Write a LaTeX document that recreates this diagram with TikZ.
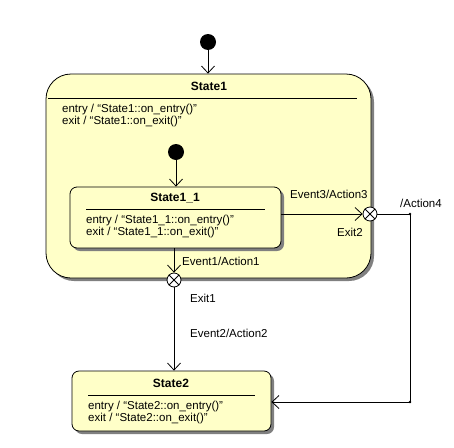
\documentclass[tikz,border=0pt]{standalone}
\usepackage{fontspec}
\setmainfont{Liberation Sans}
\usetikzlibrary{arrows.meta,shadows}
\definecolor{statefill}{RGB}{255,255,200}
\definecolor{shadowgray}{RGB}{128,128,128}
\tikzset{
  statebox/.style={draw, fill=statefill, line width=0.8pt, rounded corners=7pt,
    drop shadow={shadow xshift=3pt, shadow yshift=-3pt, fill=shadowgray, opacity=1}},
  initdot/.style={circle, fill=black, minimum size=16pt, inner sep=0pt},
  exitpt/.style={circle, draw, fill=white, line width=0.8pt, minimum size=14pt, inner sep=0pt},
  trans/.style={line width=0.8pt, -{Straight Barb[length=7pt,width=13pt]}},
  lbl/.style={font=\fontsize{11.5}{12}\selectfont, inner sep=0pt, anchor=base west},
  title/.style={font=\fontsize{12}{12}\selectfont\bfseries, inner sep=0pt, anchor=base},
  acts/.style={align=left, font=\fontsize{11.5}{12}\selectfont, inner sep=0pt, anchor=north west},
}
\begin{document}
\begin{tikzpicture}[x=1pt,y=-1pt]
    \useasboundingbox[fill=white] (0,0) rectangle (454,447);
    %% State1
    \node[statebox, rounded corners=25pt, minimum width=325pt, minimum height=204pt] (s1) at (208.5,176) {};
    \node[title] (s1title) at (209,90) {State1};
    \draw[line width=0.8pt] (48,98) -- (357,98);
    \node[acts] (s1acts) at (62,104) {entry / “State1::on\_entry()”\\exit / “State1::on\_exit()”};
    %% State1_1
    \node[statebox, minimum width=211pt, minimum height=61pt] (s11) at (175.5,217.5) {};
    \node[title] (s11title) at (175,201) {State1\_1};
    \draw[line width=0.8pt] (86,209) -- (265,209);
    \node[acts] (s11acts) at (86,215) {entry / “State1\_1::on\_entry()”\\exit / “State1\_1::on\_exit()”};
    %% State2
    \node[statebox, minimum width=199pt, minimum height=60pt] (s2) at (171.5,401) {};
    \node[title] (s2title) at (171,387) {State2};
    \draw[line width=0.8pt] (88,395) -- (255,395);
    \node[acts] (s2acts) at (88,401) {entry / “State2::on\_entry()”\\exit / “State2::on\_exit()”};
    %% Initial states
    \node[initdot] (init1) at (208,42) {};
    \node[initdot] (init2) at (176,152) {};
    \draw[trans] (init1) -- (init1 |- s1.north);
    \draw[trans] (init2) -- (init2 |- s11.north);
    %% Exit points
    \node[exitpt] (exit1) at (174,280) {};
    \node[exitpt] (exit2) at (370,214) {};
    \foreach \e in {exit1,exit2} {
        \draw[line width=0.8pt] (\e.north west) -- (\e.south east);
        \draw[line width=0.8pt] (\e.north east) -- (\e.south west);
    }
    \node[lbl] (exit1lbl) at (190,302) {Exit1};
    \node[lbl] (exit2lbl) at (337,236) {Exit2};
    %% Transitions
    \draw[trans] (s11.east |- exit2) -- (exit2);
    \node[lbl] (ev3) at (290,198) {Event3/Action3};
    \draw[trans] (exit1 |- s11.south) -- (exit1);
    \node[lbl] (ev1) at (182,265) {Event1/Action1};
    \draw[trans] (exit1) -- (exit1 |- s2.north);
    \node[lbl] (ev2) at (190,337) {Event2/Action2};
    \coordinate (c1) at (410,214);
    \coordinate (c2) at (410,402);
    \draw[trans] (exit2) -- (c1) -- (c2) -- (s2.east |- c2);
    \fill (c1) circle (1.3pt);
    \fill (c2) circle (1.3pt);
    \node[lbl] (act4) at (400,207) {/Action4};
\end{tikzpicture}
\end{document}
